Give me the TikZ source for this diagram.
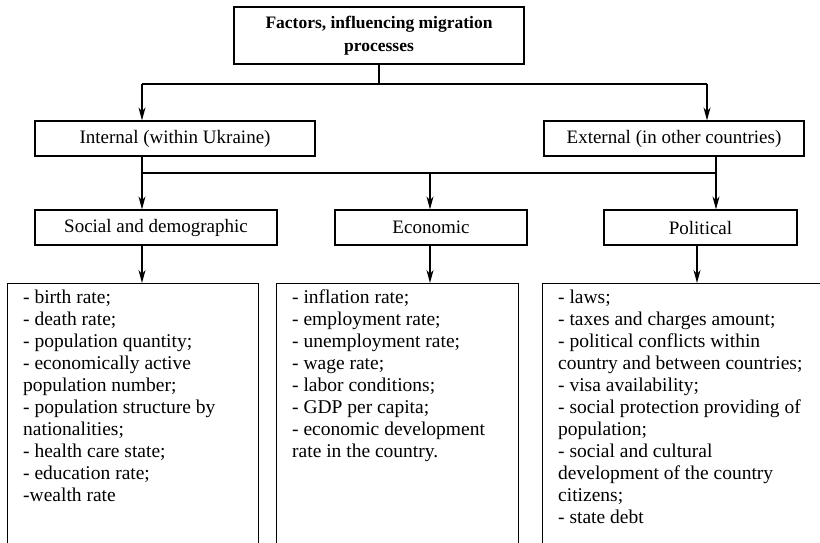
\documentclass[tikz,border=0pt]{standalone}
\usepackage{fontspec}
\setmainfont{Liberation Serif}
\usetikzlibrary{arrows.meta}
\begin{document}
\begin{tikzpicture}[x=1pt,y=-1pt,
  box/.style={draw,line width=1.2pt,inner sep=0pt,font=\fontsize{19}{22}\selectfont},
  list/.style={anchor=north west,inner sep=0pt,align=left,font=\fontsize{19.5}{22}\selectfont},
  conn/.style={line width=1.2pt},
  arr/.style={line width=1.2pt,-{Stealth[length=13pt,width=7pt,inset=4pt]}}]
\useasboundingbox (0,0) rectangle (820,543);
\clip (0,0) rectangle (820,543);
% top
\node[box,minimum width=290pt,minimum height=57pt,align=center,font=\fontsize{17.5}{23}\selectfont\bfseries] (top) at (379,35.5) {Factors, influencing migration\\processes};
% second level
\node[box,minimum width=280pt,minimum height=35pt] (int) at (175,138.5) {Internal (within Ukraine)};
\node[box,minimum width=260pt,minimum height=35pt] (ext) at (674,138.5) {External (in other countries)};
% third level
\node[box,minimum width=242pt,minimum height=35pt] (soc) at (156,227.5) {Social and demographic};
\node[box,minimum width=192pt,minimum height=35pt] (eco) at (431,227.5) {Economic};
\node[box,minimum width=193pt,minimum height=35pt] (pol) at (700.5,227.5) {Political};
% bottom boxes
\node[box,minimum width=251pt,minimum height=300pt,anchor=north west] (socb) at (7,283) {};
\node[box,minimum width=242pt,minimum height=300pt,anchor=north west] (ecob) at (276,283) {};
\node[box,minimum width=300pt,minimum height=300pt,anchor=north west] (polb) at (542,283) {};
\node[list] (soct) at ([shift={(16,7)}]socb.north west) {- birth rate;\\- death rate;\\- population quantity;\\- economically active\\population number;\\- population structure by\\nationalities;\\- health care state;\\- education rate;\\-wealth rate};
\node[list] (ecot) at ([shift={(16,7)}]ecob.north west) {- inflation rate;\\- employment rate;\\- unemployment rate;\\- wage rate;\\- labor conditions;\\- GDP per capita;\\- economic development\\rate in the country.};
\node[list] (polt) at ([shift={(16,7)}]polb.north west) {- laws;\\- taxes and charges amount;\\- political conflicts within\\country and between countries;\\- visa availability;\\- social protection providing of\\population;\\- social and cultural\\development of the country\\citizens;\\- state debt};
% connectors level 1
\coordinate (j1) at (top.south |- 0,84);
\coordinate (jl) at (142,84);
\coordinate (jr) at (707,84);
\draw[conn] (top.south) -- (j1);
\draw[conn] (jl) -- (jr);
\draw[arr] (jl) -- (jl |- int.north);
\draw[arr] (jr) -- (jr |- ext.north);
% connectors level 2
\coordinate (kl) at (142,173);
\coordinate (kr) at (716,173);
\draw[conn] (kl |- int.south) -- (kl);
\draw[conn] (kr |- ext.south) -- (kr);
\draw[conn] (kl) -- (kr);
\draw[arr] (kl) -- (kl |- soc.north);
\draw[arr] (430,173) -- (430,0 |- eco.north);
\draw[arr] (kr) -- (kr |- pol.north);
% connectors level 3
\draw[arr] (142,0 |- soc.south) -- (142,0 |- socb.north);
\draw[arr] (430,0 |- eco.south) -- (430,0 |- ecob.north);
\draw[arr] (697,0 |- pol.south) -- (697,0 |- polb.north);
\end{tikzpicture}
\end{document}
